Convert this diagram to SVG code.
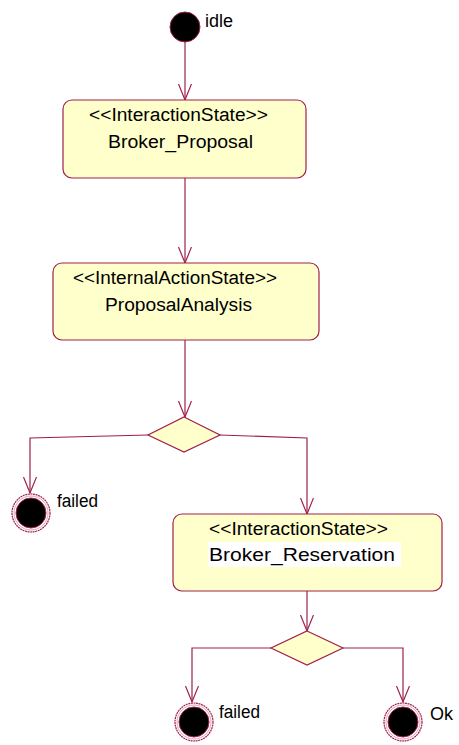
<svg xmlns="http://www.w3.org/2000/svg" width="459" height="745" viewBox="0 0 459 745">
<style>
.box{fill:#FFFFCC;stroke:#A0204A;stroke-width:1.2}
.dia{fill:#FFFFCC;stroke:#A0204A;stroke-width:1.2}
.ln{fill:none;stroke:#A0204A;stroke-width:1.2}
.t{font-family:"Liberation Sans",Arial,sans-serif;font-size:18px;fill:#000}
.ring{fill:#fff;stroke:#A0204A;stroke-width:1.2;stroke-dasharray:2 0.6}
.ring2{fill:none;stroke:#E0A0B8;stroke-width:1}
.dot{fill:#000;stroke:#A0204A;stroke-width:1}
</style>
<defs>
<marker id="arr" markerUnits="userSpaceOnUse" markerWidth="20" markerHeight="16" refX="16" refY="7" orient="auto">
<path d="M0,0.5 L16,7 L0,13.5" fill="none" stroke="#A0204A" stroke-width="1.2"/>
</marker>
</defs>
<rect width="459" height="745" fill="#fff"/>
<g id="connectors">
<line class="ln" x1="185" y1="42" x2="185" y2="100" marker-end="url(#arr)"/>
<line class="ln" x1="185" y1="178" x2="185" y2="263" marker-end="url(#arr)"/>
<line class="ln" x1="185" y1="340" x2="185" y2="417" marker-end="url(#arr)"/>
<polyline class="ln" points="148,435 30,438 30,493" marker-end="url(#arr)"/>
<polyline class="ln" points="220,435 307,438 307,514" marker-end="url(#arr)"/>
<line class="ln" x1="307" y1="591" x2="307" y2="631" marker-end="url(#arr)"/>
<polyline class="ln" points="271,648 192,648 192,702" marker-end="url(#arr)"/>
<polyline class="ln" points="343,648 403,648 403,702" marker-end="url(#arr)"/>
</g>
<g id="start">
<circle class="dot" cx="185" cy="27" r="15"/>
<text class="t" x="205" y="27">idle</text>
</g>
<g id="broker_proposal">
<rect class="box" x="63" y="100" width="243" height="78" rx="9"/>
<text class="t" x="89" y="121" textLength="179" lengthAdjust="spacingAndGlyphs">&lt;&lt;InteractionState&gt;&gt;</text>
<text class="t" x="108" y="148" textLength="145" lengthAdjust="spacingAndGlyphs">Broker_Proposal</text>
</g>
<g id="proposal_analysis">
<rect class="box" x="53" y="263" width="266" height="77" rx="9"/>
<text class="t" x="73" y="284" textLength="204" lengthAdjust="spacingAndGlyphs">&lt;&lt;InternalActionState&gt;&gt;</text>
<text class="t" x="105" y="311" textLength="147" lengthAdjust="spacingAndGlyphs">ProposalAnalysis</text>
</g>
<g id="decision1">
<polygon class="dia" points="184,417 220,435 184,452 148,435"/>
</g>
<g id="failed1">
<circle class="ring" cx="31" cy="513" r="19"/>
<circle class="ring2" cx="31" cy="513" r="17"/>
<circle class="dot" cx="31" cy="513" r="15"/>
<text class="t" x="57" y="507" textLength="41" lengthAdjust="spacingAndGlyphs">failed</text>
</g>
<g id="broker_reservation">
<rect class="box" x="173" y="514" width="269" height="77" rx="9"/>
<text class="t" x="209" y="535" textLength="179" lengthAdjust="spacingAndGlyphs">&lt;&lt;InteractionState&gt;&gt;</text>
<rect x="208" y="542" width="193" height="25" fill="#fff"/>
<text class="t" x="209" y="561" textLength="186" lengthAdjust="spacingAndGlyphs">Broker_Reservation</text>
</g>
<g id="decision2">
<polygon class="dia" points="307,631 343,648 307,665 271,648"/>
</g>
<g id="failed2">
<circle class="ring" cx="194" cy="722" r="19"/>
<circle class="ring2" cx="194" cy="722" r="17"/>
<circle class="dot" cx="194" cy="722" r="15"/>
<text class="t" x="219" y="718" textLength="41" lengthAdjust="spacingAndGlyphs">failed</text>
</g>
<g id="ok">
<circle class="ring" cx="403" cy="722" r="19"/>
<circle class="ring2" cx="403" cy="722" r="17"/>
<circle class="dot" cx="403" cy="722" r="15"/>
<text class="t" x="430" y="720">Ok</text>
</g>
</svg>
